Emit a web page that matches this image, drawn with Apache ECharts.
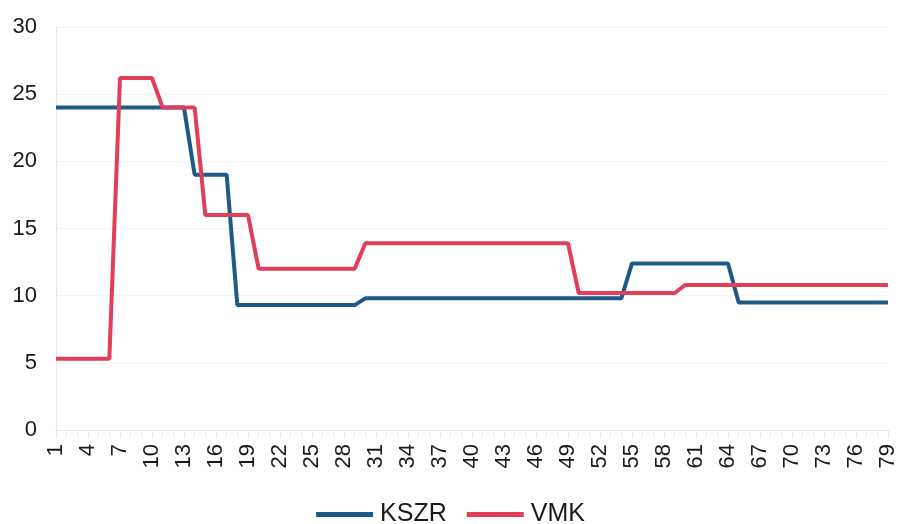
<!DOCTYPE html>
<html>
<head>
<meta charset="utf-8">
<script src="https://cdn.jsdelivr.net/npm/echarts@6/dist/echarts.min.js"></script>
<style>html,body{margin:0;padding:0;background:#fff}#c{width:901px;height:524px}</style>
</head>
<body>
<div id="c"></div>
<script>
function rep(v, n) { var a = []; for (var i = 0; i < n; i++) a.push(v); return a; }
var categories = [];
for (var i = 1; i <= 79; i++) categories.push(String(i));
var kszr = [].concat(rep(24, 13), rep(19, 4), rep(9.3, 12), rep(9.8, 25), rep(12.4, 10), rep(9.5, 15));
var vmk = [].concat(rep(5.3, 6), rep(26.2, 4), rep(24, 4), rep(16, 5), rep(12, 10), rep(13.9, 20), rep(10.2, 10), rep(10.8, 20));
var seriesNames = ['KSZR', 'VMK'];
var yTicks = { min: 0, max: 30, interval: 5 };

var chart = echarts.init(document.getElementById('c'), null, { renderer: 'canvas' });
chart.setOption({
  animation: false,
  grid: { left: 56, right: 13, top: 27, bottom: 94 },
  legend: {
    bottom: -8, left: 'center', itemWidth: 57, itemHeight: 5, itemGap: 20,
    icon: 'rect',
    textStyle: { fontFamily: 'Liberation Sans, Arial', fontSize: 25, color: '#1a1a1a', padding: [0, 0, 0, 2] },
    data: seriesNames
  },
  xAxis: {
    type: 'category', data: categories, boundaryGap: false,
    axisLine: { show: true, lineStyle: { color: '#e3e8ee' } },
    axisTick: { show: true, interval: 0, length: 8, lineStyle: { color: '#e6eaef' } },
    axisLabel: { interval: 2, rotate: 90, fontFamily: 'Liberation Sans, Arial', fontSize: 22, color: '#1a1a1a', margin: 14 },
    splitLine: { show: false }
  },
  yAxis: {
    type: 'value', min: yTicks.min, max: yTicks.max, interval: yTicks.interval,
    axisLine: { show: true, lineStyle: { color: '#e3e8ee' } },
    axisTick: { show: false },
    axisLabel: { fontFamily: 'Liberation Sans, Arial', fontSize: 22, color: '#1a1a1a', margin: 19 },
    splitLine: { show: true, lineStyle: { color: '#f2f4f7' } }
  },
  series: [
    { name: seriesNames[0], type: 'line', data: kszr, symbol: 'none', lineStyle: { width: 4, color: '#1d5b86' }, itemStyle: { color: '#1d5b86' } },
    { name: seriesNames[1], type: 'line', data: vmk, symbol: 'none', lineStyle: { width: 4, color: '#e23d5b' }, itemStyle: { color: '#e23d5b' } }
  ]
});
</script>
</body>
</html>
